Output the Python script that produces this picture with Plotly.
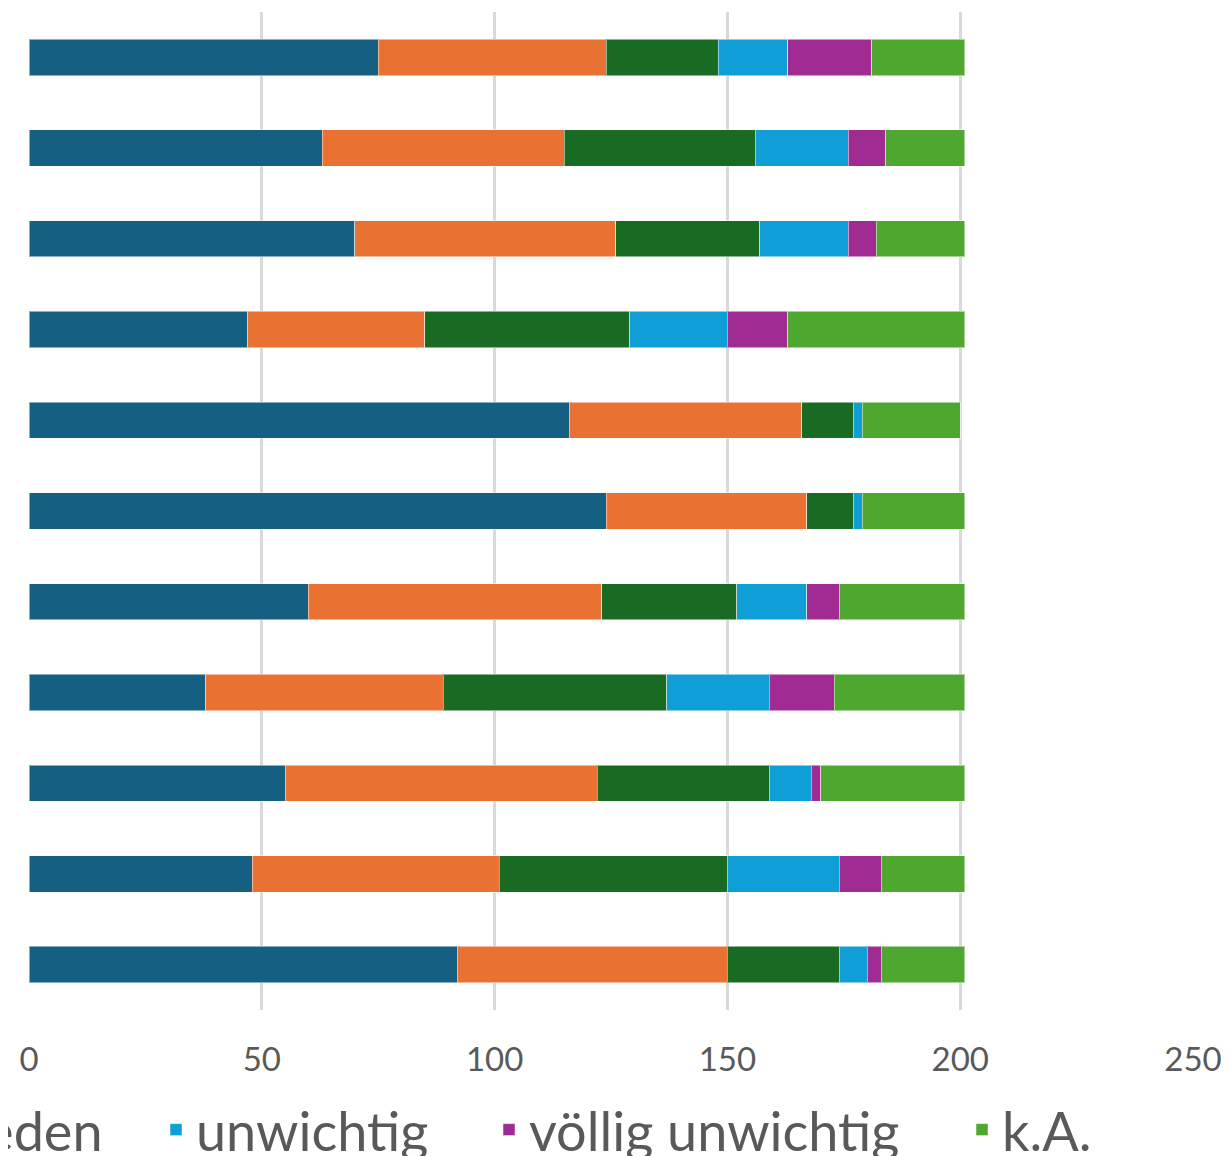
import plotly.graph_objects as go

# Categories from top to bottom (labels lie outside the visible crop)
categories = ["Aussage 1", "Aussage 2", "Aussage 3", "Aussage 4", "Aussage 5", "Aussage 6",
              "Aussage 7", "Aussage 8", "Aussage 9", "Aussage 10", "Aussage 11"]

sehr_wichtig = [75, 63, 70, 47, 116, 124, 60, 38, 55, 48, 92]
wichtig = [49, 52, 56, 38, 50, 43, 63, 51, 67, 53, 58]
unentschieden = [24, 41, 31, 44, 11, 10, 29, 48, 37, 49, 24]
unwichtig = [15, 20, 19, 21, 2, 2, 15, 22, 9, 24, 6]
voellig_unwichtig = [18, 8, 6, 13, 0, 0, 7, 14, 2, 9, 3]
keine_angabe = [20, 17, 19, 38, 21, 22, 27, 28, 31, 18, 18]

series_names = ["sehr wichtig", "wichtig", "unentschieden", "unwichtig", "völlig unwichtig", "k.A."]
series_values = [sehr_wichtig, wichtig, unentschieden, unwichtig, voellig_unwichtig, keine_angabe]
colors = ["#156082", "#E97132", "#196B24", "#0F9ED5", "#A02B93", "#4EA72E"]

tick_vals = [0, 50, 100, 150, 200, 250]

W, H = 1229, 1156
L, R, T, B = 21, 44, 4, 154
plot_w = W - L - R

FONT = "Lato, 'Open Sans', sans-serif"
TXT = "#595959"

# legend text start positions in figure pixels (first entries fall off the left edge)
legend_text_px = [-911, -528, -252, 189, 522, 995]

fig = go.Figure()
for i, (name, vals, col) in enumerate(zip(series_names, series_values, colors)):
    fig.add_trace(go.Bar(
        y=categories, x=vals, name=name, orientation="h",
        marker=dict(color=col, line=dict(color="rgba(255,255,255,0.5)", width=1)),
        legend="legend" if i == 0 else f"legend{i+1}",
    ))

layout_legends = {}
for i, tx in enumerate(legend_text_px):
    key = "legend" if i == 0 else f"legend{i+1}"
    layout_legends[key] = dict(
        orientation="h", xref="paper", x=(tx - 41 - L) / plot_w, xanchor="left",
        yref="container", y=1 - 1122 / H, yanchor="middle",
        font=dict(family=FONT, size=54, color=TXT),
        bgcolor="rgba(0,0,0,0)", borderwidth=0,
    )

fig.update_layout(
    barmode="stack",
    bargap=0.6,
    width=W, height=H,
    margin=dict(l=L, r=R, t=T, b=B, autoexpand=False),
    paper_bgcolor="white", plot_bgcolor="white",
    font=dict(family=FONT, color=TXT),
    xaxis=dict(range=[0, 250], tickvals=tick_vals, showgrid=True,
               gridcolor="#D9D9D9", gridwidth=3, zeroline=False,
               showline=False, ticks="", ticklabelstandoff=27,
               tickfont=dict(family=FONT, size=33, color=TXT)),
    yaxis=dict(autorange="reversed", showticklabels=False, showgrid=False,
               zeroline=False, showline=False, ticks=""),
    **layout_legends,
)

fig.write_html("out.html")
